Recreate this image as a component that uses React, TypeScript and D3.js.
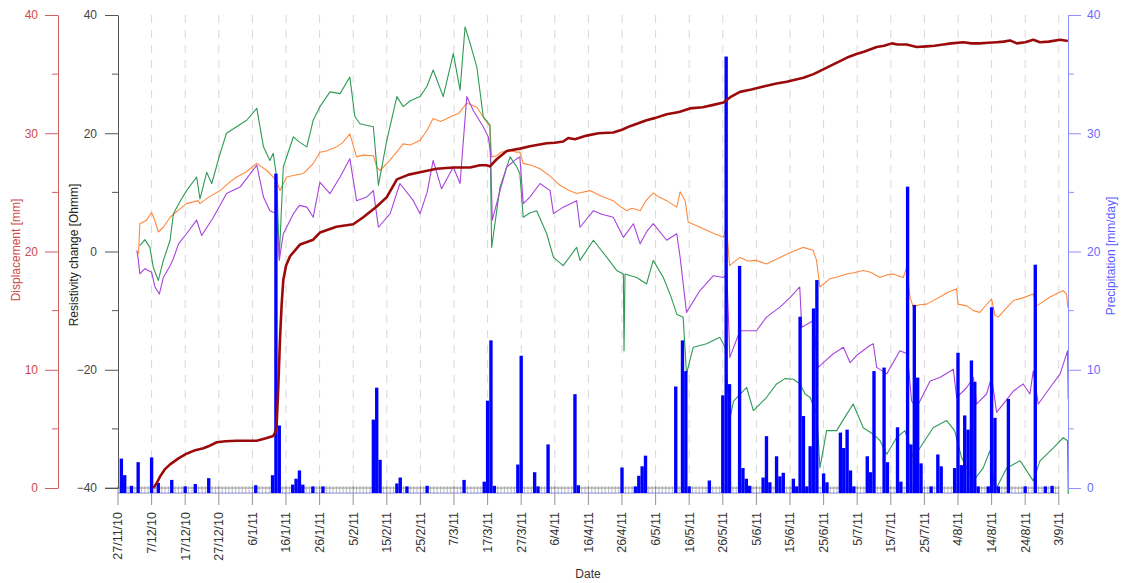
import React, { useEffect, useRef } from "react";
import * as d3 from "d3";

// tick labels on the date axis (every 10 days)
const dateTicks = [
  "27/11/10", "7/12/10", "17/12/10", "27/12/10", "6/1/11", "16/1/11", "26/1/11",
  "5/2/11", "15/2/11", "25/2/11", "7/3/11", "17/3/11", "27/3/11", "6/4/11",
  "16/4/11", "26/4/11", "6/5/11", "16/5/11", "26/5/11", "5/6/11", "15/6/11",
  "25/6/11", "5/7/11", "15/7/11", "25/7/11", "4/8/11", "14/8/11", "24/8/11", "3/9/11",
];

// daily precipitation, day number counted from 27/11/10
const precipDays = [
  1, 2, 4, 6, 10, 12, 16, 20, 23, 27, 41, 46, 47, 48, 52, 53, 54, 55, 58, 61,
  76, 77, 78, 83, 84, 86, 92, 103, 109, 110, 111, 112, 119, 120, 124, 125, 128,
  136, 137, 150, 154, 155, 156, 157, 166, 168, 169, 170, 176, 180, 181, 182,
  185, 186, 187, 188, 192, 193, 194, 196, 197, 198, 201, 202, 203, 204, 205,
  206, 207, 208, 210, 211, 215, 216, 217, 218, 219, 223, 224, 225, 228, 229,
  232, 233, 235, 236, 237, 238, 239, 242, 244, 245, 249, 250, 251, 252, 253,
  254, 255, 256, 259, 260, 261, 262, 265, 270, 273, 276, 278,
];
const precipMm = [
  2.4, 1.0, 0.1, 2.1, 2.5, 0.35, 0.6, 0.05, 0.25, 0.75, 0.15, 1.0, 26.5, 5.2, 0.2, 0.7, 1.4, 0.2, 0.05, 0.05,
  5.7, 8.4, 2.3, 0.3, 0.8, 0.05, 0.1, 0.6, 0.45, 7.3, 12.4, 0.1, 1.9, 11.1, 1.25, 0.05, 3.6,
  7.85, 0.15, 1.65, 0.05, 0.95, 1.75, 2.65, 8.5, 12.4, 9.8, 0.05, 0.55, 7.75, 36.4, 8.7,
  18.7, 1.6, 0.7, 0.1, 0.8, 4.3, 0.4, 2.6, 0.9, 1.2, 0.7, 0.05, 14.4, 6.0, 0.05,
  3.45, 15.1, 17.5, 1.15, 0.4, 4.6, 3.3, 4.85, 1.4, 0.05, 2.6, 1.25, 9.8, 10.1, 2.1,
  5.05, 0.45, 25.4, 3.6, 15.4, 9.25, 2.0, 0.05, 2.75, 1.75, 1.6, 11.35, 1.85, 6.05, 4.85,
  10.7, 8.9, 0.05, 0.05, 15.2, 5.85, 0.05, 7.45, 0.05, 18.8, 0.05, 0.1,
];

// displacement [mm]: [day, value]
const displacement: [number, number][] = [
  [10.5, 0], [11.5, 0.4], [12.5, 0.96], [14, 1.6], [15.5, 2.0], [18, 2.5], [20.4, 2.9], [23, 3.2],
  [25.4, 3.36], [27.5, 3.6], [29.4, 3.87], [32, 3.95], [35.3, 4.0], [38, 4.0], [41.3, 4.0], [44, 4.2],
  [46.2, 4.4], [46.8, 4.7], [47.2, 5.2], [47.7, 8.5], [48.2, 12.5], [48.7, 15.5], [49.2, 17.6],
  [50, 18.8], [51.2, 19.6], [54.2, 20.6], [58.1, 21.0], [60.1, 21.6], [65, 22.1], [70, 22.3],
  [73, 22.9], [77, 23.8], [80, 24.6], [83, 26.1], [86.5, 26.5], [89.9, 26.7], [94.8, 27.0],
  [99.8, 27.1], [104.8, 27.1], [107.7, 27.3], [109.7, 27.3], [110.7, 27.2], [112.7, 27.8],
  [115.7, 28.5], [119.6, 28.7], [122.6, 28.9], [127.6, 29.15], [130, 29.2], [132.5, 29.3],
  [134, 29.6], [136, 29.5], [139.5, 29.8], [143, 30.0], [147.4, 30.06], [150, 30.3], [152.4, 30.6],
  [157.3, 31.1], [160, 31.3], [163.3, 31.6], [167, 31.8], [170.2, 32.1], [174, 32.2], [177.2, 32.4],
  [180.2, 32.6], [182.5, 33.1], [185.1, 33.5], [188.5, 33.7], [192.1, 33.96], [196, 34.2],
  [199, 34.35], [204, 34.7], [207, 35.0], [209.9, 35.4], [212, 35.7], [214.9, 36.1], [217, 36.4],
  [219.8, 36.7], [222, 36.9], [225.8, 37.3], [228, 37.4], [230.3, 37.6], [232, 37.5], [234.7, 37.5],
  [237.7, 37.3], [240.7, 37.35], [243, 37.4], [245.6, 37.5], [248, 37.6], [251.6, 37.7], [254, 37.6],
  [256.5, 37.6], [259, 37.65], [261.5, 37.7], [263.5, 37.75], [265.5, 37.85], [267.5, 37.6],
  [270, 37.7], [272.4, 37.9], [274.4, 37.7], [277, 37.75], [280.4, 37.9], [282.7, 37.8],
];

// resistivity change [Ohmm]: [day, value]
const resOrange: [number, number][] = [
  [6.1, -0.4], [6.5, 4.7], [8.5, 5.3], [10, 6.6], [11, 5.2], [12, 3.3], [13.5, 4.1], [15.5, 5.8],
  [18, 7.0], [20.4, 8.1], [23.9, 8.6], [24.4, 8.1], [27, 9.2], [30.4, 10.3], [33, 11.6], [35.3, 12.6],
  [38, 13.4], [41.3, 14.9], [44.3, 13.7], [47.2, 12.0], [48.2, 10.3], [50.2, 12.6], [52.5, 12.9],
  [55.2, 13.2], [58, 14.8], [60.1, 16.8], [62, 17.0], [65.1, 17.7], [67, 18.5], [69, 19.9], [71, 16.0],
  [73, 16.3], [76, 16.2], [77, 14.3], [78, 13.7], [81, 15.5], [84.9, 18.2], [87, 18.0], [89.9, 18.8],
  [92, 20.5], [93.8, 22.5], [96, 22.0], [99.8, 23.0], [101.5, 23.4], [103.8, 25.1], [106.8, 24.4],
  [109, 22.5], [110.7, 21.1], [111.2, 16.0], [112.7, 16.2], [114, 16.8], [116.7, 17.1], [118.7, 16.8],
  [119.6, 16.8], [120.6, 14.9], [123, 14.6], [125.6, 14.0], [128.5, 12.8], [131.5, 11.2], [134, 10.4],
  [136.5, 9.8], [140.5, 10.3], [144, 9.3], [147.4, 8.6], [149, 7.8], [151.4, 6.9], [153, 7.3],
  [155.4, 6.9], [157, 8.5], [159.3, 9.9], [161, 9.2], [163.3, 8.6], [166.3, 7.5], [167.3, 10.1],
  [168.8, 8.6], [169.7, 5.0], [173.2, 4.1], [177.2, 3.1], [180.2, 2.4], [181.1, 4.6], [182, -2.4],
  [185.1, -1.0], [187.5, -1.6], [190, -1.5], [193, -2.1], [197, -1.0], [200, -0.2], [204, 0.7],
  [206.9, 0.2], [207.9, -1.5], [208.9, -6.0], [211.9, -4.6], [214, -4.3], [216.9, -3.8], [219, -3.6],
  [221.8, -3.2], [224, -3.5], [226.8, -4.4], [228.5, -4.0], [230.7, -3.8], [233.7, -4.4], [234.7, -2.8],
  [235.7, -7.7], [236.7, -9.4], [238.5, -9.0], [240.7, -8.9], [244.6, -7.7], [247, -6.9], [249.6, -6.3],
  [250, -8.9], [252.6, -9.2], [254.6, -10.0], [256.5, -10.3], [258, -9.3], [260, -8.0], [261, -10.8],
  [262, -11.1], [264, -9.8], [266.5, -8.3], [269.5, -7.8], [272.4, -7.2], [273.4, -9.2], [275, -8.6],
  [277.4, -7.7], [281.3, -6.6], [282.3, -7.2], [282.7, -9.5],
];

const resPurple: [number, number][] = [
  [5.6, 0.2], [6, -1.2], [6.5, -3.8], [8, -2.9], [10, -3.5], [11, -6.0], [12.3, -7.2], [13.5, -4.4],
  [15.5, -2.4], [16.5, -1.2], [18, 1.3], [20.4, 3.0], [23.4, 5.3], [24.9, 2.7], [28.4, 5.8],
  [32.3, 9.8], [36.3, 10.9], [38.5, 12.5], [41.3, 14.6], [43.3, 9.2], [45.2, 6.9], [47.2, 6.4],
  [48, -1.5], [49.2, 3.0], [52.2, 6.4], [54, 7.8], [56.2, 7.5], [58.1, 5.8], [60.1, 11.7], [63.1, 9.8],
  [66.1, 12.6], [69, 15.7], [71, 8.6], [74, 9.2], [76, 10.3], [77.5, 4.1], [81, 6.4], [83.9, 11.5],
  [87.9, 8.6], [89.9, 6.4], [92, 10], [93.8, 15.4], [96.3, 10.6], [99.8, 14.3], [101.8, 11.5],
  [103.8, 26.2], [105.7, 23.9], [108.7, 21.1], [110.2, 19.4], [110.9, 16.6], [111.4, 5.3],
  [113.7, 10.3], [115.7, 14.3], [118.7, 15.7], [119.6, 16.0], [120.6, 8.1], [122.6, 9.2],
  [125.6, 11.5], [128.6, 10.3], [129.6, 6.4], [132.5, 7.5], [136.5, 8.6], [137.5, 4.1], [141.5, 6.9],
  [144, 6.3], [147.4, 5.8], [150.4, 2.4], [153.4, 4.7], [155.4, 1.3], [157.5, 3.5], [159.3, 4.7],
  [163.3, 1.9], [166.3, 3.0], [167.3, -1.0], [169.2, -10.3], [173.2, -6.6], [177.2, -4.1],
  [180.2, -4.4], [181.2, -3.8], [182.1, -17.9], [185.1, -13.4], [190, -13.4], [193, -11.1],
  [197, -9.4], [200, -7.8], [202.9, -6.0], [203.5, -12.8], [206.9, -11.7], [208.4, -19.6],
  [210.5, -18.5], [212.9, -17.3], [215.9, -16.2], [217.9, -18.8], [220, -17.5], [223.8, -15.9],
  [224.8, -15.6], [225.8, -19.6], [228.8, -20.7], [232.7, -16.8], [234.9, -17.3], [236.2, -25.3],
  [237.7, -26.4], [241.7, -21.9], [244.6, -21.3], [248.6, -19.9], [249.6, -24.7], [252.6, -23],
  [254.6, -21.3], [255.5, -25.8], [258.5, -24.1], [260, -21.3], [261.5, -27.2], [266.5, -23.6],
  [269.4, -22.4], [271.4, -24.1], [272.4, -20.2], [273.9, -25.8], [277.4, -23], [280.4, -20.7],
  [282.6, -16.8], [282.8, -25],
];

const resGreen: [number, number][] = [
  [6.5, 1.0], [8, 2.0], [9.5, 0.7], [10.5, -2.7], [12, -4.9], [13.5, -1.5], [15.5, 1.9], [16.5, 6.4],
  [18.5, 8.5], [20.4, 10.3], [23.4, 12.6], [24.4, 8.9], [26.4, 13.4], [27.9, 11.5], [30.4, 16.6],
  [32.3, 20], [35.3, 21.1], [38.3, 22.2], [41.3, 24.2], [43.3, 17.7], [45.2, 15.4], [46.2, 16.6],
  [47.2, 12.6], [48, -1.0], [49.2, 14.3], [52.2, 19.4], [54, 18.5], [56.2, 17.7], [58.1, 22.2],
  [60.1, 24.5], [63.1, 27], [66.1, 26.7], [69, 29.5], [70.5, 22.8], [72, 21.6], [76, 21.1],
  [77.5, 11.2], [80, 18.8], [83, 26.2], [84.9, 24.5], [87, 25.5], [89.9, 26.2], [92, 28],
  [93.8, 30.7], [96.8, 26.2], [99.8, 33.5], [101.8, 27.3], [103.3, 38], [104.8, 35.2], [106.8, 31.2],
  [108.7, 22.8], [110.7, 21.4], [111.2, 0.7], [113.7, 10.9], [116.7, 16], [118.7, 14.3],
  [119.6, 13.2], [120.6, 5.8], [122.6, 6.5], [124.6, 6.9], [127.6, 3.0], [129.6, -1.0], [132.5, -2.4],
  [136.5, 0.7], [137.5, -1.5], [141.5, 1.9], [145.5, -1.0], [148.4, -3.2], [150.4, -3.8],
  [150.6, -16.8], [150.9, -3.8], [154.4, -4.4], [157.3, -5.5], [159.3, -1.5], [162.3, -4.4],
  [164.5, -7.5], [166.3, -10.6], [168.2, -11.1], [169.2, -20.7], [171.2, -16.2], [175.2, -15.6],
  [179.1, -14.5], [180.7, -16.2], [182, -28.6], [183.2, -25.3], [187.1, -23], [189.1, -26.9],
  [193, -24.7], [196, -22.4], [198.5, -21.5], [201, -21.6], [203, -22.4], [204.5, -24.1], [206, -24.7],
  [208, -27.5], [208.9, -36.6], [210.9, -30.3], [213.9, -30.3], [216.9, -27.5], [218.8, -25.8],
  [221.8, -29.8], [224.8, -30.9], [226.8, -32], [228.8, -34.3], [231.7, -31.5], [234.2, -30.3],
  [236.7, -34.9], [238.7, -33.2], [242.6, -29.8], [246.6, -28.6], [249, -30.3], [251.1, -34.9],
  [254.6, -38.8], [257.5, -36.6], [259.5, -33.7], [261, -40.5], [264.5, -36.6], [268.5, -35.4],
  [272.4, -38.8], [274.4, -35.4], [278.4, -33.2], [281.3, -31.5], [282.6, -32], [282.8, -41],
];

const FONT = "'Liberation Sans', Arial, Helvetica, sans-serif";
const DAY = 864e5;

export default function App() {
  const ref = useRef<SVGSVGElement>(null);

  useEffect(() => {
    const svg = d3.select(ref.current);
    svg.selectAll("*").remove();

    const parse = d3.utcParse("%d/%m/%y");
    const tickDates = dateTicks.map((s) => parse(s) as Date);
    const t0 = tickDates[0].getTime();
    const toDate = (d: number) => new Date(t0 + d * DAY);

    const top = 15, bottom = 488;
    const x = d3.scaleUtc().domain([toDate(0), toDate(282.74)]).range([118, 1068]);
    const yDisp = d3.scaleLinear().domain([0, 40]).range([bottom, top]);
    const yRes = d3.scaleLinear().domain([-40, 40]).range([bottom, top]);
    const yPrec = d3.scaleLinear().domain([0, 40]).range([bottom, top]);

    // dashed grid at date ticks
    svg.append("g")
      .selectAll("line")
      .data(tickDates.slice(1))
      .enter().append("line")
      .attr("x1", (d) => x(d)).attr("x2", (d) => x(d))
      .attr("y1", top).attr("y2", bottom)
      .attr("stroke", "#d8d8d8").attr("stroke-width", 1)
      .attr("stroke-dasharray", "8,7");

    // resistivity lines
    const resLine = d3.line<[number, number]>()
      .x((d) => x(toDate(d[0])))
      .y((d) => yRes(d[1]));
    const series: [[number, number][], string][] = [
      [resOrange, "#ff8a3d"],
      [resGreen, "#2f9a55"],
      [resPurple, "#a744dc"],
    ];
    series.forEach(([data, color]) => {
      svg.append("path")
        .attr("d", resLine(data))
        .attr("fill", "none")
        .attr("stroke", color)
        .attr("stroke-width", 1.1)
        .attr("stroke-linejoin", "round");
    });

    // date axis baseline and day ticks
    const xEnd = x(tickDates[tickDates.length - 1]);
    svg.append("line")
      .attr("x1", 118).attr("x2", xEnd).attr("y1", 493).attr("y2", 493)
      .attr("stroke", "#8a8aff").attr("stroke-width", 1);
    svg.append("line")
      .attr("x1", 105).attr("x2", xEnd).attr("y1", bottom).attr("y2", bottom)
      .attr("stroke", "#888").attr("stroke-width", 1);
    const allDays = d3.range(0, 281);
    svg.append("g")
      .selectAll("line")
      .data(allDays)
      .enter().append("line")
      .attr("x1", (d) => x(toDate(d))).attr("x2", (d) => x(toDate(d)))
      .attr("y1", 486)
      .attr("y2", (d) => (d % 10 === 0 ? 505 : 494))
      .attr("stroke", (d) => (d % 10 === 0 ? "#777" : "#aaa"))
      .attr("stroke-width", 0.8);

    // precipitation bars
    const bw = x(toDate(1)) - x(toDate(0));
    svg.append("g")
      .selectAll("rect")
      .data(precipDays.map((d, i) => [d, precipMm[i]]))
      .enter().append("rect")
      .attr("x", (d) => x(toDate(d[0])) - bw / 2)
      .attr("width", bw)
      .attr("y", (d) => yPrec(d[1]) - 1)
      .attr("height", (d) => 493 - yPrec(d[1]) + 1)
      .attr("fill", "#0000ff");

    // displacement
    const dispLine = d3.line<[number, number]>()
      .x((d) => x(toDate(d[0])))
      .y((d) => yDisp(d[1]));
    svg.append("path")
      .attr("d", dispLine(displacement))
      .attr("fill", "none")
      .attr("stroke", "#9b0a0a")
      .attr("stroke-width", 2.6)
      .attr("stroke-linejoin", "round");

    // y axes
    const styleAxis = (g: any, lineColor: string, textColor: string) => {
      g.select(".domain").attr("stroke", lineColor);
      g.selectAll(".tick line").attr("stroke", lineColor);
      g.selectAll(".tick text").attr("fill", textColor)
        .style("font-family", FONT).style("font-size", "12px");
    };
    const minor = (g: any, values: number[], scale: any, x1: number, x2: number, color: string) => {
      g.selectAll(null).data(values).enter().append("line")
        .attr("x1", x1).attr("x2", x2)
        .attr("y1", (d: number) => scale(d)).attr("y2", (d: number) => scale(d))
        .attr("stroke", color);
    };

    const redAx = svg.append("g").attr("transform", "translate(58,0)")
      .call(d3.axisLeft(yDisp).tickValues([0, 10, 20, 30, 40]).tickSize(13).tickSizeOuter(0).tickPadding(7));
    styleAxis(redAx, "#d06060", "#cc4a4a");
    minor(svg, [5, 15, 25, 35], yDisp, 52, 58, "#d06060");

    const resAx = svg.append("g").attr("transform", "translate(118,0)")
      .call(d3.axisLeft(yRes).tickValues([-40, -20, 0, 20, 40]).tickSize(13).tickSizeOuter(0).tickPadding(8));
    styleAxis(resAx, "#555", "#444");
    minor(svg, [-30, -10, 10, 30], yRes, 112, 118, "#555");

    const blueAx = svg.append("g").attr("transform", "translate(1068,0)")
      .call(d3.axisRight(yPrec).tickValues([0, 10, 20, 30, 40]).tickSize(13).tickSizeOuter(0).tickPadding(6));
    styleAxis(blueAx, "#9090ff", "#6a6aff");
    minor(svg, [5, 15, 25, 35], yPrec, 1068, 1074, "#9090ff");

    // date labels
    svg.append("g")
      .selectAll("text")
      .data(tickDates)
      .enter().append("text")
      .attr("transform", (d) => `translate(${x(d)},512) rotate(-90)`)
      .attr("dy", "0.35em")
      .attr("text-anchor", "end")
      .attr("fill", "#333")
      .style("font-family", FONT).style("font-size", "12.5px")
      .text((d, i) => dateTicks[i]);

    // axis titles
    const title = (txt: string, tx: number, ty: number, rot: number, color: string) =>
      svg.append("text")
        .attr("transform", `translate(${tx},${ty}) rotate(${rot})`)
        .attr("text-anchor", "middle")
        .attr("fill", color)
        .style("font-family", FONT).style("font-size", "12px")
        .text(txt);
    title("Displacement [mm]", 20, 250, -90, "#cc4a4a");
    title("Resistivity change [Ohmm]", 78, 255, -90, "#222");
    title("Precipitation [mm/day]", 1115, 256, -90, "#5a5aff");
    title("Date", 588, 578, 0, "#333");
  }, []);

  return (
    <svg
      ref={ref}
      width={1121}
      height={583}
      style={{ position: "absolute", left: 0, top: 0, background: "#fff" }}
    />
  );
}
